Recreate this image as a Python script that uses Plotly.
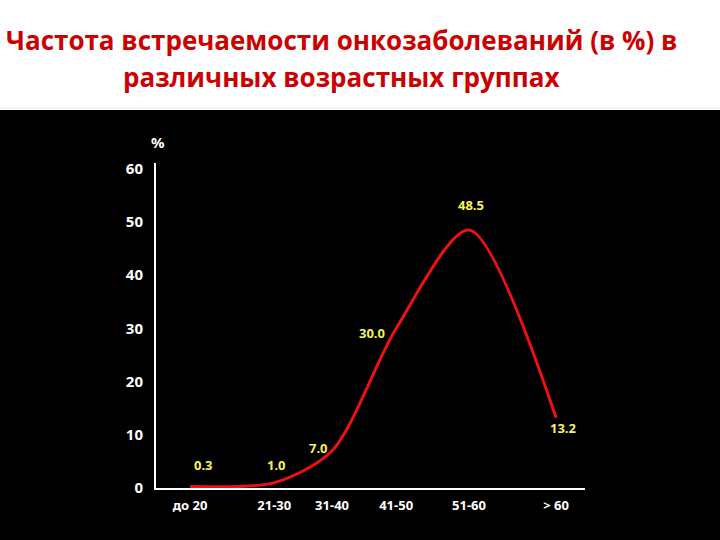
import plotly.graph_objects as go

# Data
categories = ["до 20", "21-30", "31-40", "41-50", "51-60", "> 60"]
category_pos = [0.0, 2.30, 3.88, 5.63, 7.62, 10.0]   # uneven spacing of the category ticks
values = [0.3, 1.0, 7.0, 30.0, 48.5, 13.2]
value_labels = ["0.3", "1.0", "7.0", "30.0", "48.5", "13.2"]
y_ticks = [0, 10, 20, 30, 40, 50, 60]

title_line1 = "Частота встречаемости онкозаболеваний (в %) в"
title_line2 = "различных возрастных группах"

W, H = 720, 540
L, R, T, B = 156, 135, 163, 52
pw, ph = W - L - R, H - T - B

# label offsets (pixels) relative to each point
label_shift = [(13, 21), (2, 18), (-14, 3), (-24, -5), (2, 25), (7, -10)]

fig = go.Figure()
fig.add_trace(go.Scatter(
    x=category_pos, y=values, mode="lines",
    line=dict(color="#ee1111", width=3, shape="spline", smoothing=0.8),
    hoverinfo="skip", showlegend=False,
))

annotations = []
for xp, v, t, (dx, dy) in zip(category_pos, values, value_labels, label_shift):
    annotations.append(dict(
        x=xp, y=v, xref="x", yref="y", text=t, showarrow=False,
        xshift=dx, yshift=dy,
        font=dict(family="Noto Sans", size=13, color="#f5f25a", weight="bold"),
    ))

annotations.append(dict(
    x=0, y=1, xref="paper", yref="paper", text="%", showarrow=False,
    xanchor="center", yanchor="bottom", xshift=2, yshift=9,
    font=dict(family="Noto Sans", size=15, color="white", weight="bold"),
))

for txt, ypx in [(title_line1, 40), (title_line2, 77)]:
    annotations.append(dict(
        x=(341 - L) / pw, y=(H - B - ypx) / ph, xref="paper", yref="paper",
        text=txt, showarrow=False, xanchor="center", yanchor="middle",
        font=dict(family="Open Sans", size=26, color="#cc0000", weight="bold"),
    ))

shapes = [
    dict(type="rect", xref="paper", yref="paper", layer="below",
         x0=-L / pw, x1=1 + R / pw, y0=-B / ph, y1=(H - B - 110) / ph,
         fillcolor="black", line=dict(width=0)),
    dict(type="line", xref="paper", yref="paper", layer="below",
         x0=-L / pw, x1=1 + R / pw, y0=(H - B - 108) / ph, y1=(H - B - 108) / ph,
         line=dict(color="#e6e6e6", width=1)),
]

fig.update_layout(
    width=W, height=H,
    margin=dict(l=L, r=R, t=T, b=B),
    paper_bgcolor="white",
    plot_bgcolor="black",
    xaxis=dict(
        range=[-0.93, 10.79], tickmode="array", tickvals=category_pos, ticktext=categories,
        showgrid=False, zeroline=False, showline=True, linecolor="white", linewidth=2,
        ticks="", ticklabelstandoff=4,
        tickfont=dict(family="Noto Sans", size=13, color="white", weight="bold"),
    ),
    yaxis=dict(
        range=[0, 61.1], tickmode="array", tickvals=y_ticks,
        showgrid=False, zeroline=False, showline=True, linecolor="white", linewidth=2,
        ticks="", ticklabelstandoff=8,
        tickfont=dict(family="Noto Sans", size=15, color="white", weight="bold"),
    ),
    annotations=annotations,
    shapes=shapes,
)

fig.write_html("out.html", config={"displayModeBar": False},
               post_script="document.body.style.margin='0';")
